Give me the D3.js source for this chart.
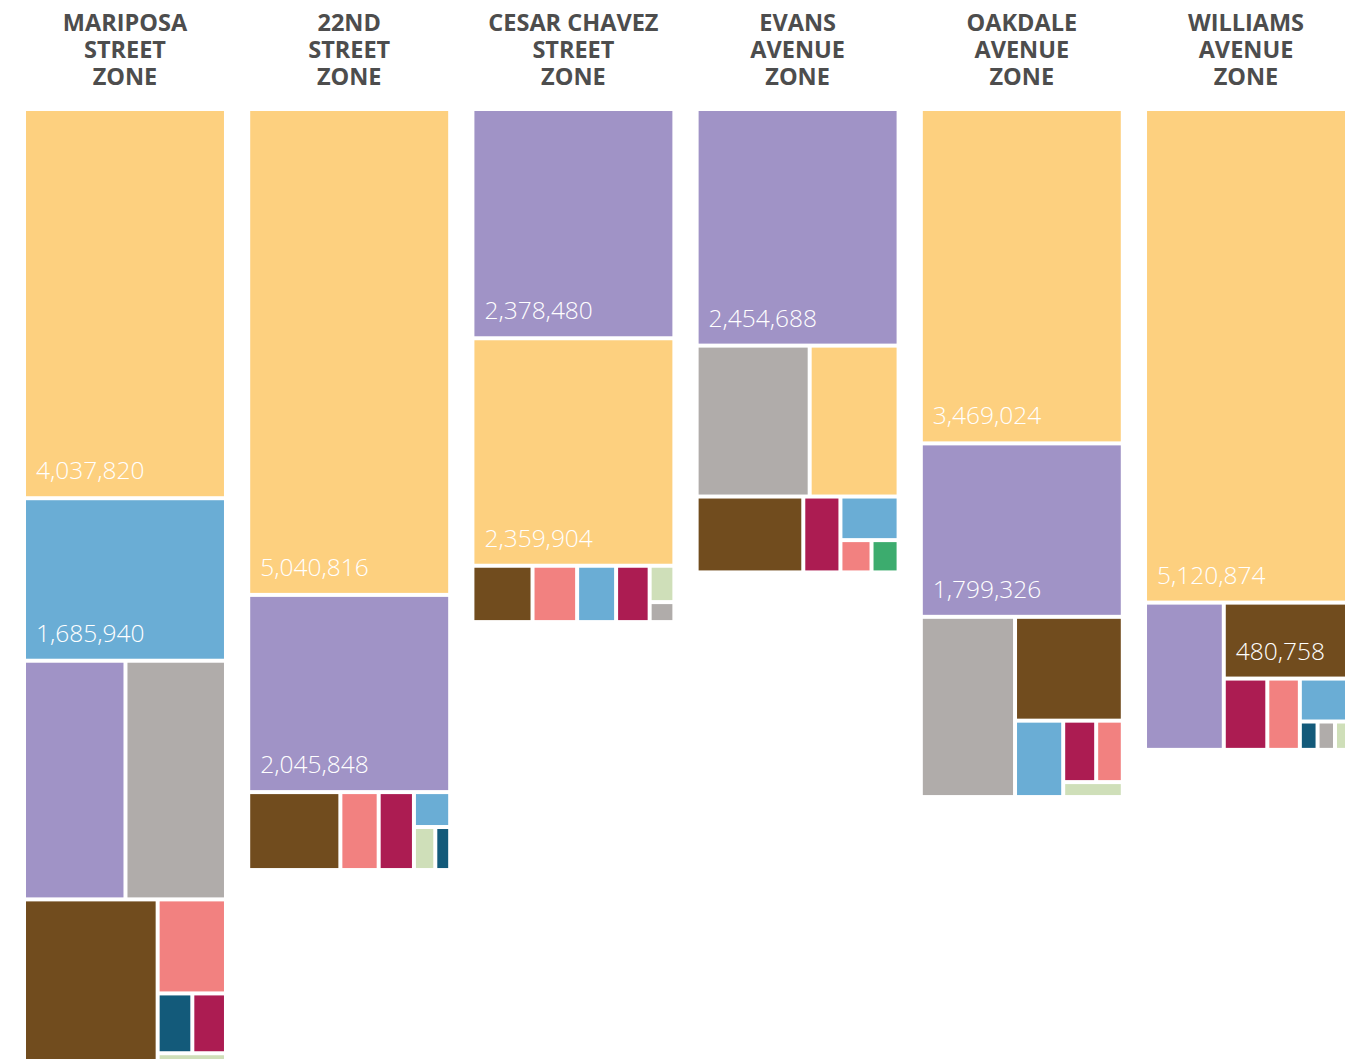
<!DOCTYPE html>
<html>
<head>
<meta charset="utf-8">
<script src="https://cdn.jsdelivr.net/npm/d3@7"></script>
<style>
  body { margin: 0; background: #fff; }
  svg { display: block; font-family: "Open Sans", sans-serif; }
</style>
</head>
<body>
<svg id="chart" width="1362" height="1059"></svg>
<script>
// zones (columns), in drawing order
var zones = ["Mariposa Street Zone", "22nd Street Zone", "Cesar Chavez Street Zone",
             "Evans Avenue Zone", "Oakdale Avenue Zone", "Williams Avenue Zone"];

// categories with their colours
var categories = ["A", "B", "C", "D", "E", "F", "G", "H", "I", "J"];
var colors = ["#fdd07f", "#a093c6", "#6aadd5", "#b0acaa", "#714c1e",
              "#f28180", "#ac1c52", "#135a7a", "#cfdfb9", "#3cac6e"];

// values per category, one entry per zone (0 = none)
var catA = [4037820, 5040816, 2359904, 689300, 3469024, 5120874];
var catB = [1244000, 2045848, 2378480, 2454688, 1799326, 595700];
var catC = [1685940, 65000, 112800, 130200, 189000, 104000];
var catD = [1232000, 0, 25400, 876400, 872200, 25400];
var catE = [1130000, 369000, 174000, 415800, 574700, 480758];
var catF = [330000, 153400, 129100, 51600, 84000, 119200];
var catG = [103400, 141200, 97100, 144800, 104100, 159400];
var catH = [106500, 32900, 0, 0, 0, 25800];
var catI = [37800, 47200, 46200, 0, 45800, 17500];
var catJ = [0, 0, 0, 44900, 0, 0];
var values = [catA, catB, catC, catD, catE, catF, catG, catH, catI, catJ];

// tiling settings per column: squarify ratio and horizontal squeeze of the layout
var tileRatio = [1.5, 1, 1, 1, 1, 1];
var squeeze = [1, 0.8, 0.9, 0.94, 0.85, 0.88];

var svg = d3.select("#chart");
var colTop = 111, pad = 4;

var x = d3.scaleBand().domain(zones).range([26, 1345]).paddingInner(0.117);
var bw = x.bandwidth();

var totals = zones.map(function(z, i) {
	return d3.sum(values, function(v) { return v[i]; });
});
// column height follows total value, so area stays comparable across columns
var h = d3.scaleLinear().domain([0, d3.max(totals)]).range([0, 955]);

var color = d3.scaleOrdinal().domain(categories).range(colors);
var fmt = d3.format(",");

zones.forEach(function(zone, i) {
	var g = svg.append("g").attr("transform", "translate(" + x(zone) + "," + colTop + ")");

	// title, last two words on their own lines
	var words = zone.toUpperCase().split(" ");
	var lines = [words.slice(0, -2).join(" "), words[words.length - 2], words[words.length - 1]];
	svg.append("text")
		.attr("x", x(zone) + bw / 2)
		.attr("text-anchor", "middle")
		.style("font-size", "23.5px")
		.style("font-weight", 700)
		.style("fill", "#4d4d4d")
		.selectAll("tspan").data(lines).enter().append("tspan")
		.attr("x", x(zone) + bw / 2)
		.attr("y", function(d, j) { return 31 + j * 27; })
		.text(function(d) { return d; });

	var children = categories.map(function(c, k) {
		return { cat: c, value: values[k][i] };
	}).filter(function(d) { return d.value > 0; });

	var root = d3.hierarchy({ children: children })
		.sum(function(d) { return d.value || 0; })
		.sort(function(a, b) { return b.value - a.value; });

	var lw = (bw + pad) / squeeze[i];
	d3.treemap()
		.tile(d3.treemapSquarify.ratio(tileRatio[i]))
		.size([lw, h(totals[i])])(root);

	// layout space -> column space
	var sx = d3.scaleLinear().domain([0, lw]).range([0, bw + pad]);

	var leaf = g.selectAll("g").data(root.leaves()).enter().append("g");

	leaf.append("rect")
		.attr("x", function(d) { return sx(d.x0); })
		.attr("y", function(d) { return d.y0; })
		.attr("width", function(d) { return Math.max(0, sx(d.x1) - sx(d.x0) - pad); })
		.attr("height", function(d) { return Math.max(0, d.y1 - d.y0 - pad); })
		.style("fill", function(d) { return color(d.data.cat); });

	leaf.filter(function(d) { return d.y1 - d.y0 - pad > 40; })
		.append("text")
		.attr("x", function(d) { return sx(d.x0) + 10; })
		.attr("y", function(d) { return d.y1 - pad - 17; })
		.style("font-size", "24.5px")
		.style("font-weight", 300)
		.style("fill", "#fff")
		.text(function(d) { return fmt(d.data.value); })
		// drop labels that don't fit the block with some margin
		.each(function(d) {
			var w = sx(d.x1) - sx(d.x0) - pad;
			if (this.getComputedTextLength() + 24 > w) d3.select(this).remove();
		});
});
</script>
</body>
</html>
